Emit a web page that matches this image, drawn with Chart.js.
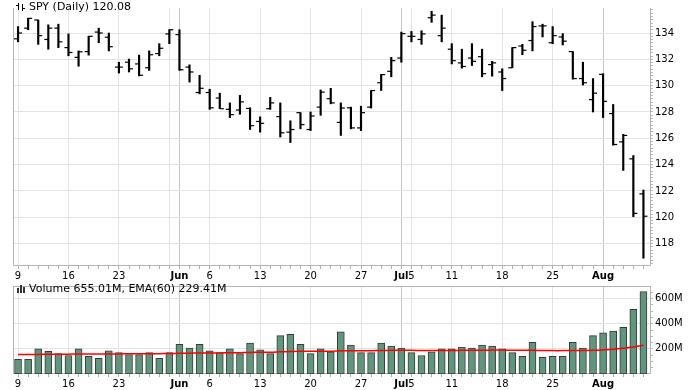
<!DOCTYPE html>
<html>
<head>
<meta charset="utf-8">
<script src="https://cdn.jsdelivr.net/npm/chart.js@4.4.0/dist/chart.umd.min.js"></script>
<style>
  html, body { margin: 0; padding: 0; background: #fff; }
  #wrap { position: relative; width: 697px; height: 390px; overflow: hidden; }
  canvas { position: absolute; left: 0; }
  #priceChart { top: 0; }
  #volChart { top: 278px; }
</style>
</head>
<body>
<div id="wrap">
  <canvas id="priceChart" width="697" height="282"></canvas>
  <canvas id="volChart" width="697" height="112"></canvas>
</div>
<script>
// SPY daily bars, 9 May - 5 Aug 2011
const dates = [
  '05-09','05-10','05-11','05-12','05-13','05-16','05-17','05-18','05-19','05-20',
  '05-23','05-24','05-25','05-26','05-27','05-31','06-01','06-02','06-03','06-06',
  '06-07','06-08','06-09','06-10','06-13','06-14','06-15','06-16','06-17','06-20',
  '06-21','06-22','06-23','06-24','06-27','06-28','06-29','06-30','07-01','07-05',
  '07-06','07-07','07-08','07-11','07-12','07-13','07-14','07-15','07-18','07-19',
  '07-20','07-21','07-22','07-25','07-26','07-27','07-28','07-29','08-01','08-02',
  '08-03','08-04','08-05'
];
const opens = [
  133.56,134.37,134.99,133.51,134.37,132.89,132.15,132.59,134.07,133.68,
  131.41,131.78,131.65,131.36,132.44,133.93,133.88,131.41,129.48,129.48,
  129.06,128.20,128.15,128.27,127.28,128.25,127.65,126.47,127.95,126.67,
  128.37,129.01,127.21,128.32,126.79,128.37,130.22,131.09,132.10,133.75,
  133.51,135.16,133.80,132.77,131.73,132.10,132.20,131.60,131.04,131.36,
  133.01,133.43,134.54,133.26,133.70,132.59,130.54,128.94,130.86,127.88,
  125.73,124.44,121.78
];
const highs = [
  134.49,135.13,134.99,134.62,134.67,133.93,132.64,133.75,134.37,134.00,
  131.78,132.02,132.32,132.64,133.19,134.25,134.25,131.58,130.79,129.73,
  129.43,128.69,129.26,128.32,127.63,129.11,128.69,127.33,127.95,128.00,
  129.68,129.80,128.69,128.37,128.44,129.63,130.86,132.15,134.07,134.12,
  134.17,135.65,135.36,133.19,132.77,133.19,132.77,131.85,131.28,132.89,
  133.14,134.86,134.67,134.49,133.95,132.59,131.78,130.54,130.91,128.57,
  126.30,124.69,122.07
];
const lows = [
  133.33,134.25,133.14,132.77,132.89,132.27,131.48,132.32,133.26,132.64,
  130.96,131.04,130.74,131.16,132.27,133.19,131.16,130.27,129.38,128.20,
  128.25,127.58,127.83,126.67,126.47,128.20,126.10,125.68,126.72,126.59,
  127.75,128.62,126.22,126.72,126.59,128.30,129.63,130.67,131.78,133.33,
  133.14,134.81,133.33,131.65,131.33,131.53,130.67,130.72,129.63,131.36,
  132.35,132.64,133.70,133.19,133.09,130.49,130.05,128.00,127.58,125.48,
  123.56,120.05,116.89
];
const closes = [
  134.00,135.11,133.80,134.37,133.33,132.52,132.57,133.75,134.00,132.96,
  131.41,131.28,130.79,132.35,132.84,134.25,131.21,131.04,129.80,128.32,
  128.25,127.80,128.77,126.96,127.14,128.69,126.42,126.67,127.04,127.70,
  129.51,128.69,128.30,126.79,127.95,129.63,130.84,131.90,133.95,133.75,
  133.93,135.36,134.37,131.90,131.46,131.85,130.91,131.73,130.54,132.89,
  132.69,134.49,134.54,133.80,133.38,130.54,130.22,129.43,128.81,125.53,
  126.22,120.30,120.08
];
// volume in millions of shares
const volumes = [
  117,117,200,180,162,147,200,140,125,185,
  170,155,155,170,125,170,237,207,237,185,
  170,200,162,245,192,162,305,315,237,162,
  200,177,335,230,170,170,245,222,207,170,
  147,177,200,200,215,207,230,222,200,170,
  140,252,132,140,140,252,207,305,327,342,
  372,515,655.01
];
const ema60 = [
  155,155,156,157,157,158,159,159,159,160,
  160,161,161,162,162,163,165,166,167,168,
  168,169,170,172,173,173,176,179,180,180,
  181,181,184,185,185,185,187,188,188,188,
  187,186,187,187,188,188,189,190,190,189,
  188,189,187,186,186,187,187,188,192,197,
  205,215,229.41
];

// axis labels
const tickDates  = ['05-09','05-16','05-23','05-31','06-01','06-06','06-13','06-20','06-27','07-01','07-05','07-11','07-18','07-25','08-01'];
const tickLabels = ['9','16','23','','Jun','6','13','20','27','Jul','5','11','18','25','Aug'];
const priceLabels = [118, 120, 122, 124, 126, 128, 130, 132, 134];
const volLabels = [200, 400, 600];

const FONT = 'DejaVu Sans';
Chart.defaults.font.family = FONT;
Chart.defaults.color = '#000';

const tickIndex = tickDates.map(d => dates.indexOf(d));
const labelAt = v => { const k = tickIndex.indexOf(v); return k < 0 ? '' : tickLabels[k]; };
const isMonth = v => /[A-Za-z]/.test(labelAt(v));
const clear = 'rgba(0,0,0,0)';

function xAxis() {
  return {
    type: 'linear',
    min: -0.5,
    max: 62.75,
    offset: false,
    afterBuildTicks: s => { s.ticks = dates.map((d, i) => ({ value: i })); },
    afterFit: s => { s.height = 16; },
    border: { display: false },
    grid: {
      offset: false,
      color: c => {
        if (!c.tick || !tickIndex.includes(c.tick.value)) return clear;
        return isMonth(c.tick.value) ? '#c4c4c4' : '#e3e3e3';
      },
      tickColor: '#b0b0b0',
      tickLength: 3
    },
    ticks: {
      autoSkip: false,
      maxRotation: 0,
      padding: 1,
      font: c => ({ family: FONT, size: 10, weight: c.tick && isMonth(c.tick.value) ? 'bold' : 'normal' }),
      callback: v => labelAt(v)
    }
  };
}

// plot frame
const frame = {
  id: 'frame',
  beforeDatasetsDraw(chart, args, opts) {
    const { ctx, chartArea: a } = chart;
    const l = Math.round(a.left) + 0.5, r = Math.round(a.right) - 0.5;
    const t = Math.round(a.top) + 0.5, b = Math.round(a.bottom) - 0.5;
    ctx.save();
    ctx.strokeStyle = '#b4b4b4';
    ctx.lineWidth = 1;
    ctx.beginPath();
    if (opts.top) { ctx.moveTo(l, t); ctx.lineTo(r, t); }
    ctx.moveTo(l, a.top); ctx.lineTo(l, b);
    ctx.lineTo(r, b); ctx.lineTo(r, a.top);
    ctx.stroke();
    ctx.restore();
  }
};

// panel caption with little icon
const caption = {
  id: 'caption',
  afterDraw(chart, args, opts) {
    const ctx = chart.ctx;
    ctx.save();
    ctx.fillStyle = '#000';
    ctx.strokeStyle = '#000';
    ctx.lineWidth = 1;
    if (opts.icon === 'ohlc') {
      ctx.beginPath();
      ctx.moveTo(18.5, opts.y - 4); ctx.lineTo(18.5, opts.y + 3);
      ctx.moveTo(16, opts.y - 1.5); ctx.lineTo(18.5, opts.y - 1.5);
      ctx.moveTo(22.5, opts.y - 3); ctx.lineTo(22.5, opts.y + 4);
      ctx.moveTo(22.5, opts.y + 1.5); ctx.lineTo(25, opts.y + 1.5);
      ctx.stroke();
    } else {
      ctx.fillStyle = '#333';
      ctx.fillRect(17, opts.y - 1, 2, 5);
      ctx.fillRect(20, opts.y - 4, 2, 8);
      ctx.fillRect(23, opts.y - 2, 2, 6);
      ctx.fillStyle = '#000';
    }
    ctx.font = '11px "' + FONT + '"';
    ctx.textBaseline = 'middle';
    ctx.fillText(opts.text, 29, opts.y);
    ctx.restore();
  }
};

// price panel
const hlBars = dates.map((d, i) => ({ x: i, y: [lows[i], highs[i]] }));
const openTicks = dates.map((d, i) => ({ x: i - 0.2, y: opens[i] }));
const closeTicks = dates.map((d, i) => ({ x: i + 0.2, y: closes[i] }));

const tickStyle = {
  type: 'scatter',
  pointStyle: 'line',
  pointRadius: 2,
  pointHoverRadius: 2,
  pointBorderWidth: 1.2,
  pointBorderColor: '#000',
  order: 0
};

new Chart(document.getElementById('priceChart'), {
  type: 'bar',
  data: {
    datasets: [
      { type: 'bar', data: hlBars, backgroundColor: '#000', borderWidth: 0, barThickness: 1.5, order: 1 },
      Object.assign({ data: openTicks }, tickStyle),
      Object.assign({ data: closeTicks }, tickStyle)
    ]
  },
  options: {
    responsive: false,
    animation: false,
    devicePixelRatio: 1,
    layout: { padding: { left: 13, top: 3, right: 0, bottom: 0 } },
    plugins: {
      legend: { display: false },
      tooltip: { enabled: false },
      frame: { top: false },
      caption: { text: 'SPY (Daily) 120.08', y: 7, icon: 'ohlc' }
    },
    scales: {
      x: xAxis(),
      y: {
        position: 'right',
        min: 116.3,
        max: 135.9,
        beginAtZero: false,
        afterBuildTicks: s => {
          const t = [];
          for (let v = 116.5; v <= 135.75; v += 0.25) t.push({ value: v });
          s.ticks = t;
        },
        afterFit: s => { s.width = 46; },
        border: { display: false },
        grid: {
          color: c => (c.tick && priceLabels.includes(c.tick.value)) ? '#e3e3e3' : clear,
          tickColor: '#b8b8b8',
          tickLength: 2
        },
        ticks: {
          autoSkip: false,
          padding: 2,
          font: { size: 10 },
          callback: v => priceLabels.includes(v) ? String(v) : ''
        }
      }
    }
  },
  plugins: [frame, caption]
});

// volume panel
new Chart(document.getElementById('volChart'), {
  type: 'bar',
  data: {
    datasets: [
      {
        type: 'line',
        data: dates.map((d, i) => ({ x: i, y: ema60[i] })),
        borderColor: '#ff0000',
        borderWidth: 1.5,
        pointRadius: 0,
        tension: 0.3,
        order: 0
      },
      {
        type: 'bar',
        data: dates.map((d, i) => ({ x: i, y: volumes[i] })),
        backgroundColor: '#5e977b',
        borderColor: '#3a3a3a',
        borderWidth: 1,
        borderSkipped: false,
        barThickness: 7,
        order: 1
      }
    ]
  },
  options: {
    responsive: false,
    animation: false,
    devicePixelRatio: 1,
    layout: { padding: { left: 13, top: 3, right: 0, bottom: 0 } },
    plugins: {
      legend: { display: false },
      tooltip: { enabled: false },
      frame: { top: true },
      caption: { text: 'Volume 655.01M, EMA(60) 229.41M', y: 11, icon: 'bars' }
    },
    scales: {
      x: xAxis(),
      y: {
        position: 'right',
        min: 0,
        max: 700,
        afterBuildTicks: s => {
          const t = [];
          for (let v = 50; v < 700; v += 50) t.push({ value: v });
          s.ticks = t;
        },
        afterFit: s => { s.width = 46; },
        border: { display: false },
        grid: {
          color: c => (c.tick && volLabels.includes(c.tick.value)) ? '#e3e3e3' : clear,
          tickColor: '#b8b8b8',
          tickLength: 2
        },
        ticks: {
          autoSkip: false,
          padding: 2,
          font: { size: 10 },
          callback: v => volLabels.includes(v) ? v + 'M' : ''
        }
      }
    }
  },
  plugins: [frame, caption]
});
</script>
</body>
</html>
